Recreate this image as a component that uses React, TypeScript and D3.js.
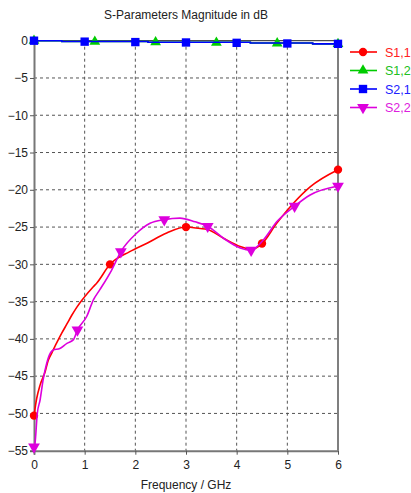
import React, { useEffect, useRef } from 'react';
import * as d3 from 'd3';

// S1,1 (red)
const s11Freq = [0, 0.053, 0.12, 0.22, 0.28, 0.35, 0.45, 0.55, 0.65, 0.74, 0.84, 0.97, 1.17, 1.24, 1.5, 1.89, 2.22, 2.62, 3.0, 3.28, 3.41, 3.74, 4.07, 4.3, 4.49, 4.79, 5.12, 5.45, 6.0];
const s11Db = [-50.3, -48.0, -46.2, -44.4, -42.9, -41.9, -40.5, -39.2, -38.0, -36.9, -35.8, -34.6, -33.0, -32.5, -30.0, -28.3, -27.2, -25.8, -25.0, -25.2, -25.3, -26.5, -27.6, -28.0, -27.3, -24.5, -21.8, -19.6, -17.3];

// S2,2 (magenta)
const s22Freq = [0, 0.02, 0.065, 0.12, 0.18, 0.25, 0.28, 0.38, 0.51, 0.65, 0.78, 0.857, 1.04, 1.17, 1.3, 1.53, 1.714, 2.03, 2.29, 2.571, 2.88, 3.18, 3.429, 3.74, 4.07, 4.286, 4.53, 4.79, 5.143, 5.45, 6.0];
const s22Db = [-54.5, -54.0, -50.0, -48.2, -45.5, -43.3, -42.6, -41.5, -41.3, -40.6, -40.1, -38.8, -37.0, -34.8, -33.4, -30.8, -28.3, -25.8, -24.5, -24.0, -23.8, -24.3, -24.9, -26.5, -27.8, -28.1, -26.7, -24.3, -22.2, -20.7, -19.5];

// S2,1 / S1,2 (near 0 dB)
const s21Freq = [0, 0.55, 2.25, 4.27, 5.5, 6.0];
const s21Db = [0, -0.1, -0.2, -0.3, -0.42, -0.42];
const s12Freq = [0, 0.55, 2.25, 4.27, 5.5, 6.0];
const s12Db = [0, -0.1, -0.2, -0.3, -0.42, -0.42];

// marker frequencies
const s11Markers = [0, 1.5, 3, 4.5, 6];
const s12Markers = [0, 1.2, 2.4, 3.6, 4.8, 6];
const s21Markers = [0, 1, 2, 3, 4, 5, 6];
const s22Markers = [0, 6 / 7, 12 / 7, 18 / 7, 24 / 7, 30 / 7, 36 / 7, 6];

const xTicks = [0, 1, 2, 3, 4, 5, 6];
const yTicks = [0, -5, -10, -15, -20, -25, -30, -35, -40, -45, -50, -55];

const names = ['S1,1', 'S1,2', 'S2,1', 'S2,2'];
const colors = ['#ff0000', '#00cc00', '#0000ff', '#dd00dd'];
const textColors = ['#ff2020', '#20c020', '#2020ff', '#dd20dd'];

const W = 411;
const H = 493;

const App = () => {
  const ref = useRef(null);

  useEffect(() => {
    const svg = d3.select(ref.current);
    svg.selectAll('*').remove();

    const x = d3.scaleLinear().domain([0, 6]).range([34, 338]);
    const y = d3.scaleLinear().domain([0, -55]).range([40.7, 450.7]);
    const font = '"Liberation Sans", Arial, sans-serif';

    svg.append('rect').attr('width', W).attr('height', H).attr('fill', '#ffffff');

    // grid
    svg.selectAll('.vg')
      .data(xTicks.slice(1, -1))
      .enter()
      .append('line')
      .attr('x1', d => x(d)).attr('x2', d => x(d))
      .attr('y1', y(0)).attr('y2', y(-55))
      .attr('stroke', '#555').attr('stroke-dasharray', '3,3');
    svg.selectAll('.hg')
      .data(yTicks.slice(1, -1))
      .enter()
      .append('line')
      .attr('x1', x(0)).attr('x2', x(6))
      .attr('y1', d => y(d)).attr('y2', d => y(d))
      .attr('stroke', '#555').attr('stroke-dasharray', '3,3');

    // frame
    svg.append('line').attr('x1', x(0)).attr('x2', x(6)).attr('y1', y(0)).attr('y2', y(0)).attr('stroke', '#222');
    svg.append('line').attr('x1', x(6)).attr('x2', x(6)).attr('y1', y(0)).attr('y2', y(-55)).attr('stroke', '#555').attr('stroke-width', 1.5);

    // axes
    const xAxis = d3.axisBottom(x).tickValues(xTicks).tickSize(4).tickPadding(6).tickFormat(d3.format('d'));
    const gx = svg.append('g').attr('transform', `translate(0,${y(-55)})`).call(xAxis);
    const yAxis = d3.axisLeft(y).tickValues(yTicks).tickSize(4).tickPadding(2).tickFormat(d3.format('d'));
    const gy = svg.append('g').attr('transform', `translate(${x(0)},0)`).call(yAxis);
    [gx, gy].forEach(g => {
      g.select('.domain').attr('stroke', '#777').attr('stroke-width', 2);
      g.selectAll('.tick line').attr('stroke', '#555');
      g.selectAll('text').attr('fill', '#222').style('font-family', font).style('font-size', '12px');
    });
    gx.select('.domain').attr('d', `M${x(0) - 4},0.5H${x(6)}`);
    gy.select('.domain').attr('d', `M0.5,${y(0)}V${y(-55) + 4}`);

    // title and label
    svg.append('text').attr('x', 186).attr('y', 19).attr('text-anchor', 'middle')
      .style('font-family', font).style('font-size', '12px').attr('fill', '#222')
      .text('S-Parameters Magnitude in dB');
    svg.append('text').attr('x', 186).attr('y', 489).attr('text-anchor', 'middle')
      .style('font-family', font).style('font-size', '12px').attr('fill', '#222')
      .text('Frequency / GHz');

    const series = [
      { f: s11Freq, v: s11Db, m: s11Markers, curve: d3.curveMonotoneX, sym: d3.symbolCircle, size: 55, rot: 0 },
      { f: s12Freq, v: s12Db, m: s12Markers, curve: d3.curveStepAfter, sym: d3.symbolTriangle, size: 50, rot: 0 },
      { f: s21Freq, v: s21Db, m: s21Markers, curve: d3.curveStepAfter, sym: d3.symbolSquare, size: 70, rot: 0 },
      { f: s22Freq, v: s22Db, m: s22Markers, curve: d3.curveMonotoneX, sym: d3.symbolTriangle, size: 60, rot: 180 },
    ];

    const interp = (fs, vs, f) => {
      if (f <= fs[0]) return vs[0];
      for (let i = 1; i < fs.length; i++) {
        if (f <= fs[i]) {
          const t = (f - fs[i - 1]) / (fs[i] - fs[i - 1]);
          return vs[i - 1] + t * (vs[i] - vs[i - 1]);
        }
      }
      return vs[vs.length - 1];
    };

    series.forEach((s, i) => {
      const pts = s.f.map((f, k) => [f, s.v[k]]);
      const line = d3.line().x(d => x(d[0])).y(d => y(d[1])).curve(s.curve);
      svg.append('path').datum(pts).attr('d', line)
        .attr('fill', 'none').attr('stroke', colors[i]).attr('stroke-width', 1.6);
      const symbol = d3.symbol().type(s.sym).size(s.size);
      svg.selectAll(`.mk${i}`)
        .data(s.m)
        .enter()
        .append('path')
        .attr('d', symbol)
        .attr('transform', d => `translate(${x(d)},${y(interp(s.f, s.v, d))}) rotate(${s.rot})`)
        .attr('fill', colors[i]);
    });

    // legend
    const lg = svg.append('g');
    names.forEach((n, i) => {
      const ly = 52 + i * 18.5;
      lg.append('line').attr('x1', 350).attr('x2', 377).attr('y1', ly).attr('y2', ly)
        .attr('stroke', colors[i]).attr('stroke-width', 1.6);
      const s = series[i];
      lg.append('path').attr('d', d3.symbol().type(s.sym).size(s.size))
        .attr('transform', `translate(363,${ly}) rotate(${s.rot})`).attr('fill', colors[i]);
      lg.append('text').attr('x', 385).attr('y', ly + 4.5)
        .style('font-family', font).style('font-size', '12.5px').attr('fill', textColors[i])
        .text(n);
    });
  }, []);

  return (
    <div style={{ position: 'absolute', left: 0, top: 0 }}>
      <svg ref={ref} width={W} height={H} style={{ display: 'block' }}></svg>
    </div>
  );
};

export default App;
